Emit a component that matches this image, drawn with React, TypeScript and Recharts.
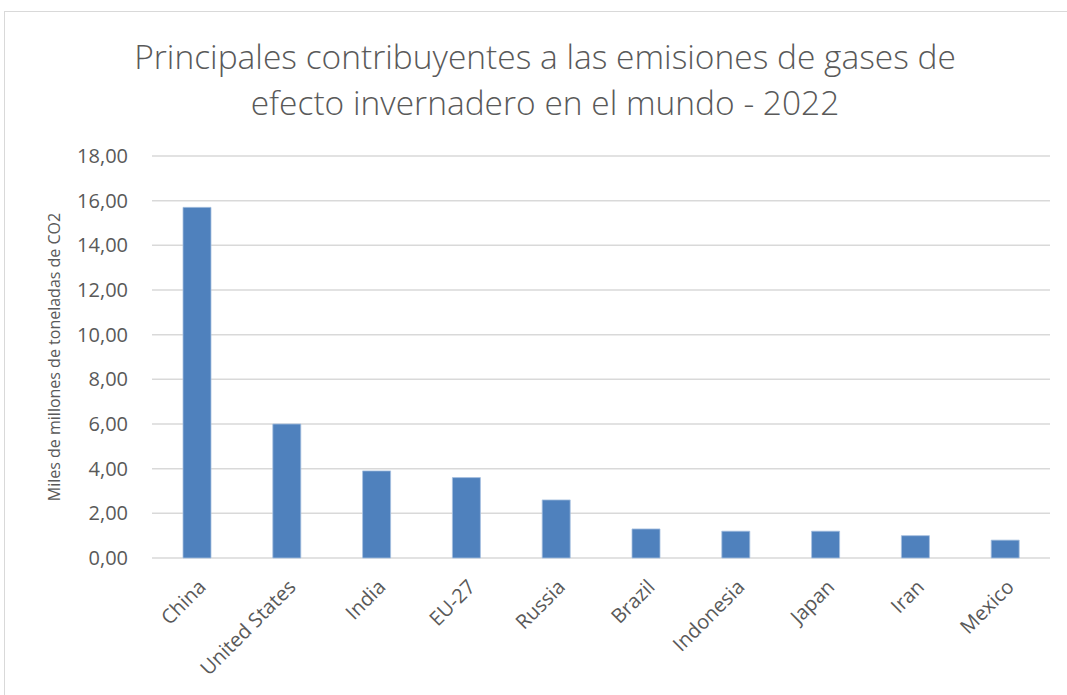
import React from 'react';
import { BarChart, Bar, XAxis, YAxis, CartesianGrid } from 'recharts';

const countries = ['China', 'United States', 'India', 'EU-27', 'Russia', 'Brazil', 'Indonesia', 'Japan', 'Iran', 'Mexico'];
const emissions = [15.7, 6.0, 3.9, 3.6, 2.6, 1.3, 1.2, 1.2, 1.0, 0.8];
const yTicks = [0, 2, 4, 6, 8, 10, 12, 14, 16, 18];

const data = countries.map((name, i) => ({ name, value: emissions[i] }));

const FONT = '"Open Sans", Lato, sans-serif';
const GREY = '#595959';

const fmt = (v: number) => v.toFixed(2).replace('.', ',');

const CountryTick = (props: any) => {
  const { x, y, payload } = props;
  return (
    <g transform={`translate(${x + 6},${y + 18})`}>
      <text transform="rotate(-45)" textAnchor="end" dy={6} fill={GREY} fontSize={20} fontFamily={FONT}>
        {payload.value}
      </text>
    </g>
  );
};

export default function App() {
  return (
    <div style={{ position: 'absolute', left: 0, top: 0, width: 1067, height: 695, background: '#fff', overflow: 'hidden' }}>
      <div style={{ position: 'absolute', left: 4, top: 11, width: 1080, height: 700, border: '1.5px solid #d9d9d9' }} />
      <div
        style={{
          position: 'absolute', left: 0, top: 33, width: 1090, textAlign: 'center',
          fontFamily: FONT, fontWeight: 300, fontSize: 33.5, color: GREY, lineHeight: '46px',
        }}
      >
        Principales contribuyentes a las emisiones de gases de
        <br />
        efecto invernadero en el mundo - 2022
      </div>
      <div style={{ position: 'absolute', left: 0, top: 0 }}>
        <BarChart width={1067} height={695} data={data} margin={{ top: 156, right: 17, bottom: 17, left: 52 }}>
          <CartesianGrid horizontal vertical={false} stroke="#d9d9d9" strokeWidth={1.5} />
          <XAxis
            dataKey="name"
            axisLine={false}
            tickLine={false}
            interval={0}
            height={120}
            tick={<CountryTick />}
          />
          <YAxis
            domain={[0, 18]}
            ticks={yTicks}
            tickFormatter={fmt}
            axisLine={false}
            tickLine={false}
            width={100}
            tickMargin={18}
            tick={{ fill: GREY, fontSize: 20, fontFamily: FONT }}
            label={{
              value: 'Miles de millones de toneladas de CO2',
              angle: -90,
              position: 'insideLeft',
              offset: 2,
              style: { textAnchor: 'middle', fill: GREY, fontSize: 16, fontFamily: FONT },
            }}
          />
          <Bar dataKey="value" fill="#4f81bd" stroke="#a7c0e0" strokeWidth={0.8} barSize={28} isAnimationActive={false} />
        </BarChart>
      </div>
    </div>
  );
}
